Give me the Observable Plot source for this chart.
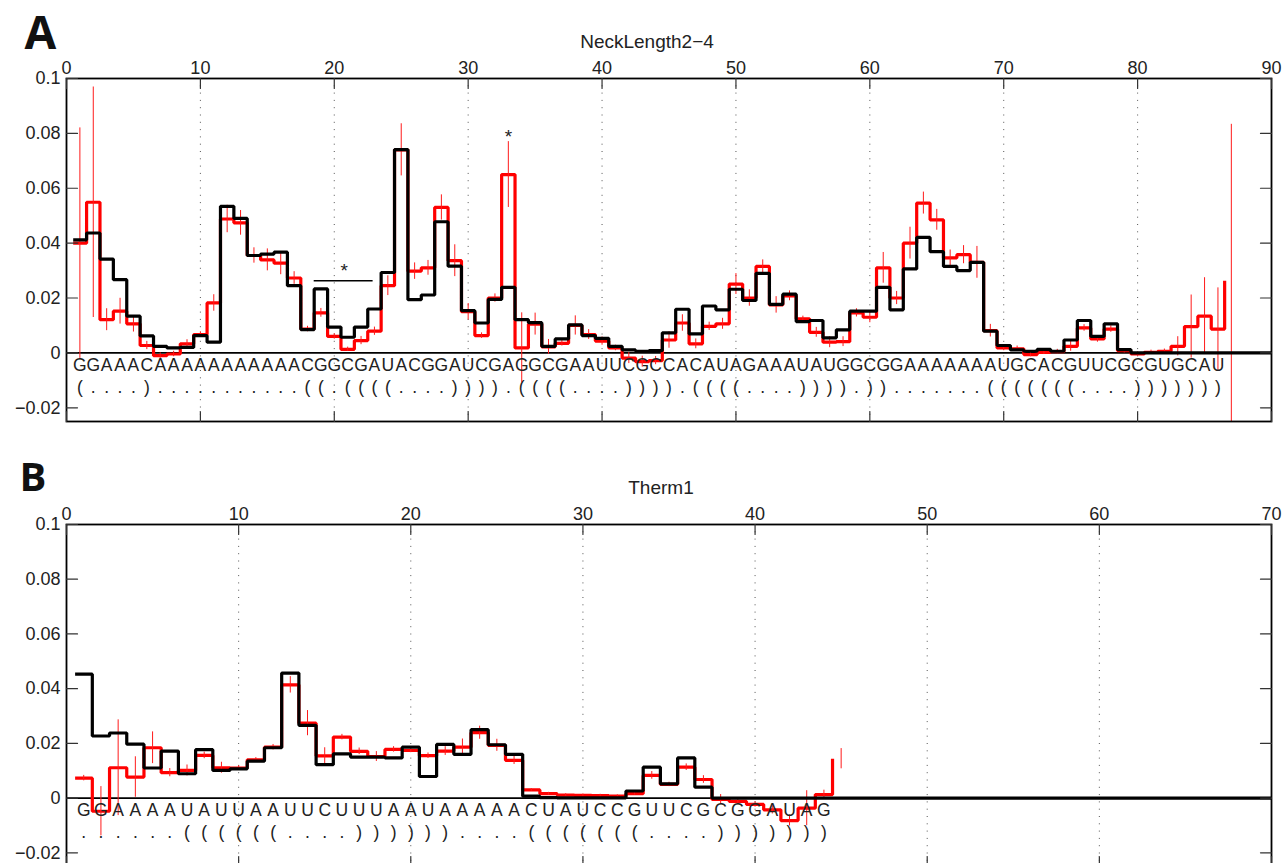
<!DOCTYPE html>
<html><head><meta charset="utf-8">
<script src="https://cdn.jsdelivr.net/npm/d3@7"></script>
<script src="https://cdn.jsdelivr.net/npm/@observablehq/plot@0.6"></script>
<style>
body{margin:0;background:#fff;}
#chart{width:1284px;}
#chart svg{display:block;}
</style></head><body><div id="chart"></div>
<script>
// ---------- Panel A : NeckLength2-4 ----------
const titleA = "NeckLength2−4";
const seqA = "GGAAACAAAAAAAAAAACGGCGAUACGGAUCGAGGCGAAUUCGCCACAUAGAAAUAUGGCGGAAAAAAAUGCACGUUCGCGUGCAU";
const structA = "(....)...........((.((((....)))).((((....)))).((((....)))).)).......(((((((....)))))))";
const redA = [0.040,0.0549,0.0121,0.0152,0.0106,0.0027,-0.001,-0.0004,0.0033,0.0067,
  0.0182,0.0488,0.0474,0.0355,0.0339,0.0327,0.0273,0.0087,0.0146,0.006,
  0.0013,0.0045,0.0079,0.0245,0.0740,0.0298,0.031,0.053,0.0336,0.015,
  0.0063,0.020,0.065,0.0018,0.0105,0.0022,0.0035,0.010,0.0067,0.0043,
  0.0018,-0.0019,-0.0032,-0.0028,0.0047,0.0109,0.0033,0.0097,0.0106,0.0251,
  0.020,0.0315,0.0175,0.0208,0.0124,0.0075,0.0039,0.0041,0.0146,0.013,
  0.031,0.020,0.040,0.0546,0.0485,0.0346,0.0358,0.033,0.0081,0.0018,
  0.0015,-0.0006,0.0002,0.0005,0.0024,0.0091,0.0051,0.0087,0.0008,-0.0004,
  0.0002,0.0006,0.0024,0.0096,0.0134,0.0087,0.0263];
const errA = [0.042,0.042,0.004,0.0047,0.003,0.0015,0.001,0.001,0.0015,0.001,
  0.003,0.005,0.0045,0.0028,0.004,0.0042,0.0023,0.001,0.0016,0.001,
  0.0008,0.0015,0.0015,0.0036,0.0095,0.003,0.0027,0.0046,0.0058,0.003,
  0.001,0.0015,0.012,0.0128,0.004,0.0027,0.001,0.0035,0.0018,0.0015,
  0.001,0.002,0.002,0.0015,0.003,0.003,0.0018,0.0015,0.002,0.0038,
  0.003,0.0024,0.003,0.0018,0.001,0.0018,0.002,0.0018,0.0015,0.002,
  0.0056,0.0024,0.0058,0.004,0.0038,0.0029,0.0033,0.0058,0.0023,0.001,
  0.001,0.0008,0.0008,0.0008,0.0018,0.0012,0.0012,0.0012,0.0008,0.0008,
  0.0008,0.0008,0.0035,0.0115,0.014,0.015,0.057];
const blackA = [0.0412,0.0437,0.0342,0.0267,0.0134,0.0062,0.0024,0.0018,0.002,0.0063,
  0.0039,0.0534,0.049,0.0355,0.036,0.0367,0.0245,0.0085,0.0233,0.0094,
  0.0057,0.0094,0.016,0.0293,0.0741,0.0194,0.0211,0.0478,0.0316,0.0154,
  0.0109,0.0195,0.0239,0.0121,0.011,0.0024,0.0051,0.0102,0.0063,0.0053,
  0.0024,0.0011,0.0006,0.0008,0.0073,0.0159,0.0069,0.0171,0.0157,0.0232,
  0.0191,0.029,0.0177,0.0214,0.0114,0.0118,0.0055,0.0084,0.0152,0.0152,
  0.0239,0.0157,0.0306,0.0421,0.0369,0.0315,0.030,0.033,0.0079,0.0027,
  0.0011,0.0006,0.0013,0.0006,0.0047,0.0118,0.006,0.0106,0.0012,0,
  0,0,0,0,0,0];
const xTicksA = [0,10,20,30,40,50,60,70,80,90];
const starsA = [{x:33, y:0.0765}, {x:20.75, y:0.0277}];
const spanA = [{x1:18.5, x2:22.9, y:0.0263}];

// ---------- Panel B : Therm1 ----------
const titleB = "Therm1";
const seqB = "GGAAAAUAUUAAUUCUUUAAUAAAAACUAUCCGUUCGCGGAUAG";
const structB = "......((((((....))))))....(((((((....)))))))";
const redB = [0.0073,-0.0048,0.0111,0.0077,0.0184,0.0093,0.0101,0.0156,0.0111,0.011,
  0.014,0.0186,0.0414,0.0274,0.0154,0.0223,0.0171,0.0152,0.0178,0.0174,
  0.0155,0.0172,0.0186,0.0239,0.0193,0.0138,0.003,0.0016,0.0011,0.001,
  0.0009,0.0007,0.0016,0.0083,0.005,0.0113,0.0068,-0.0005,-0.0012,-0.0023,
  -0.0043,-0.0082,-0.0037,0.0013,0.0144];
const errB = [0.001,0.009,0.0175,0.0074,0.0058,0.0015,0.002,0.0012,0.002,0.0008,
  0.0008,0.001,0.003,0.0046,0.003,0.001,0.0012,0.0018,0.001,0.0008,
  0.001,0.0016,0.003,0.0024,0.0022,0.0015,0.0005,0.0005,0.0005,0.0005,
  0.0005,0.0005,0.0005,0.0014,0.0008,0.0012,0.0014,0.0018,0.001,0.001,
  0.0015,0.002,0.0064,0.0016,0.0037];
const blackB = [0.0453,0.0227,0.0238,0.0197,0.011,0.0172,0.0089,0.0177,0.0101,0.0107,
  0.0135,0.0184,0.0457,0.0266,0.0122,0.0162,0.015,0.015,0.0147,0.0186,
  0.0079,0.0196,0.016,0.025,0.0195,0.016,0.0007,0.0002,0.0001,0.0001,
  0.0001,0.0001,0.0026,0.0113,0.0052,0.0147,0.004,0,0,0,
  0,0,0,0];
const xTicksB = [0,10,20,30,40,50,60,70];

// ---------- shared ----------
const yTicks = [0.1,0.08,0.06,0.04,0.02,0,-0.02];
const yTickLabels = ["0.1","0.08","0.06","0.04","0.02","0","−0.02"];
const yDomain = [-0.025, 0.1];
const SEQ_Y = -0.0066, STRUCT_Y = -0.0146;

const tickShape = {draw(ctx, l){ ctx.moveTo(0,0); ctx.lineTo(0,-l); }};
const FONT = "'Liberation Sans', Arial, Helvetica, sans-serif";

function panel({letter, title, titleDx, letterDx, letterDy, letterSize, seq, struct, red, err, black, xTicks, xMax, height, marginTop, marginBottom, stars = [], spans = []}) {
  const redPts = red.map((v,i) => ({x: i + 0.5, y: v}));
  const errPts = red.map((v,i) => ({x: i + 1, lo: v - err[i], hi: v + err[i]}));
  const blackPts = [];
  for (let i = 0; i < xMax; i++) blackPts.push({x: i + 0.5, y: i < black.length ? black[i] : 0});
  blackPts.push({x: xMax, y: 0});
  const seqPts = seq.split("").map((c,i) => ({x: i + 1, c}));
  const structPts = struct.split("").map((c,i) => ({x: i + 1, c}));
  const grid = xTicks.filter(d => d > 0 && d < xMax);
  return Plot.plot({
    width: 1284, height, marginLeft: 66, marginRight: 13, marginTop, marginBottom,
    x: {domain: [0, xMax]},
    y: {domain: yDomain},
    style: {fontFamily: FONT, fontSize: "18px", color: "#222", background: "white", overflow: "visible"},
    marks: [
      Plot.ruleX(grid, {x: d => d, stroke: "#555", strokeWidth: 1, strokeDasharray: "1,6.3"}),
      Plot.ruleY([0], {stroke: "black", strokeWidth: 1.6}),
      Plot.line(redPts, {x: "x", y: "y", curve: "step-after", stroke: "#ff0000", strokeWidth: 3.2, strokeLinejoin: "miter", strokeLinecap: "butt"}),
      Plot.ruleX(errPts, {x: "x", y1: "lo", y2: "hi", stroke: "#ff1a1a", strokeWidth: 1, clip: true}),
      Plot.line(blackPts, {x: "x", y: "y", curve: "step-after", stroke: "black", strokeWidth: 3.2, strokeLinejoin: "miter", strokeLinecap: "butt"}),
      Plot.ruleY(spans, {x1: "x1", x2: "x2", y: "y", stroke: "black", strokeWidth: 1.3}),
      Plot.text(stars, {x: "x", y: "y", text: () => "*", fontSize: 19, lineAnchor: "bottom", fill: "#222"}),
      Plot.text(seqPts, {x: "x", y: () => SEQ_Y, text: "c", fontSize: 17.5, lineAnchor: "bottom", fill: "#222"}),
      Plot.text(structPts, {x: "x", y: () => STRUCT_Y, text: "c", fontSize: 17.5, lineAnchor: "bottom", fill: "#222"}),
      Plot.frame({stroke: "black", strokeWidth: 1.8}),
      Plot.vector(xTicks, {x: d => d, frameAnchor: "top", length: 10, rotate: 180, anchor: "start", shape: tickShape, stroke: "#333", strokeWidth: 1.2}),
      Plot.vector(xTicks, {x: d => d, frameAnchor: "bottom", length: 10, rotate: 0, anchor: "start", shape: tickShape, stroke: "#333", strokeWidth: 1.2}),
      Plot.vector(yTicks, {y: d => d, frameAnchor: "left", length: 11, rotate: 90, anchor: "start", shape: tickShape, stroke: "#333", strokeWidth: 1.2}),
      Plot.vector(yTicks, {y: d => d, frameAnchor: "right", length: 11, rotate: -90, anchor: "start", shape: tickShape, stroke: "#333", strokeWidth: 1.2}),
      Plot.axisX(xTicks, {anchor: "top", tickSize: 0, tickPadding: 5, label: null, fontSize: 18}),
      Plot.axisY(yTicks, {anchor: "left", tickSize: 0, tickPadding: 6, label: null, fontSize: 18,
        tickFormat: d => yTickLabels[yTicks.indexOf(d)]}),
      Plot.text([title], {frameAnchor: "top", dx: titleDx, dy: -31, lineAnchor: "bottom", fontSize: 19, fill: "#222"}),
      Plot.text([letter], {frameAnchor: "top-left", textAnchor: "start", dx: letterDx, dy: letterDy, lineAnchor: "bottom",
        fontSize: letterSize, fontWeight: "bold", fontFamily: "'Open Sans', sans-serif", fill: "#111"})
    ]
  });
}

const chart = document.getElementById("chart");
chart.append(panel({letter: "A", title: titleA, titleDx: -22, letterDx: -42, letterDy: -30, letterSize: 46,
  seq: seqA, struct: structA, red: redA, err: errA, black: blackA, xTicks: xTicksA, xMax: 90,
  height: 440, marginTop: 78, marginBottom: 19, stars: starsA, spans: spanA}));
chart.append(panel({letter: "B", title: titleB, titleDx: -8, letterDx: -47, letterDy: -34, letterSize: 40,
  seq: seqB, struct: structB, red: redB, err: errB, black: blackB, xTicks: xTicksB, xMax: 70,
  height: 436, marginTop: 84, marginBottom: 10}));
</script>
</body></html>
